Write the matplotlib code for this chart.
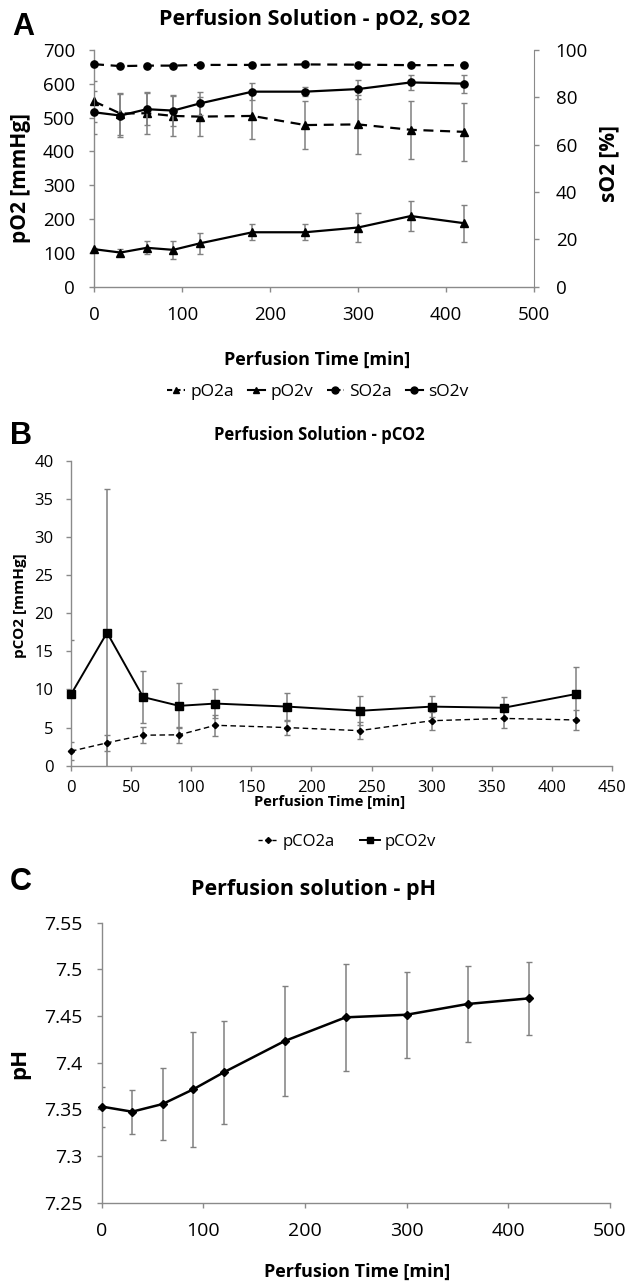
import matplotlib
matplotlib.use("Agg")
import matplotlib.pyplot as plt
from matplotlib.lines import Line2D

# ---- data -------------------------------------------------------------
time_min = [0, 30, 60, 90, 120, 180, 240, 300, 360, 420]

po2_a = [548, 512, 513, 505, 503, 505, 478, 480, 464, 458]
po2_a_err = [60, 62, 62, 60, 58, 68, 72, 88, 86, 86]
po2_v = [111, 101, 115, 109, 128, 161, 161, 175, 209, 188]
po2_v_err = [4, 11, 19, 27, 31, 23, 24, 42, 43, 55]

so2_a = [94.0, 93.2, 93.4, 93.4, 93.7, 93.7, 93.9, 93.8, 93.6, 93.6]
so2_a_err = [0.4, 0.4, 0.4, 0.4, 0.4, 0.4, 0.4, 0.4, 0.4, 0.4]
so2_v = [73.7, 72.3, 75.0, 74.4, 77.4, 82.4, 82.4, 83.5, 86.3, 85.8]
so2_v_err = [9.0, 9.0, 6.8, 6.5, 5.0, 3.5, 2.0, 4.0, 3.3, 3.8]

pco2_a = [1.9, 3.0, 4.0, 4.05, 5.3, 5.0, 4.6, 5.9, 6.2, 6.0]
pco2_a_err = [1.2, 1.05, 1.05, 1.05, 1.4, 1.0, 1.1, 1.2, 1.3, 1.3]
pco2_v = [9.35, 17.45, 9.0, 7.85, 8.15, 7.75, 7.2, 7.75, 7.6, 9.4]
pco2_v_err = [7.2, 18.8, 3.45, 2.95, 1.85, 1.85, 1.9, 1.35, 1.45, 3.5]

ph = [7.353, 7.3475, 7.3557, 7.3714, 7.3896, 7.4232, 7.4486, 7.4514, 7.4629, 7.4689]
ph_err = [0.0215, 0.0235, 0.039, 0.062, 0.0555, 0.0585, 0.057, 0.046, 0.0405, 0.0388]

ph_ticks = [7.25, 7.3, 7.35, 7.4, 7.45, 7.5, 7.55]

# ---- styling ----------------------------------------------------------
W, H = 630, 1284
BODY = "Open Sans"
AXIS_GREY = "#8a8a8a"
ERR_GREY = "#808080"
DASH = (0, (4.5, 3))

plt.rcParams["font.family"] = [BODY, "DejaVu Sans"]

fig = plt.figure(figsize=(W / 100, H / 100), dpi=100)


def rect(left, top, right, bottom):
    return [left / W, 1 - bottom / H, (right - left) / W, (bottom - top) / H]


def fy(y):
    return 1 - y / H


def style_axes(ax, size, xpad, ypad):
    for side in ("top", "right"):
        ax.spines[side].set_visible(False)
    for side in ("left", "bottom"):
        ax.spines[side].set_color(AXIS_GREY)
        ax.spines[side].set_linewidth(1.0)
    ax.tick_params(axis="both", direction="out", length=3.6, width=1.0,
                   color=AXIS_GREY, labelsize=size)
    ax.tick_params(axis="x", pad=xpad)
    ax.tick_params(axis="y", pad=ypad)


def err(ax, x, y, e):
    ax.errorbar(x, y, yerr=e, fmt="none", ecolor=ERR_GREY, elinewidth=1.1,
                capsize=2.2, capthick=1.0, zorder=2)


def fmt_g(v, _pos):
    return f"{v:g}"


def panel_letter(x, y, s):
    fig.text(x / W, fy(y), s, ha="left", va="center", fontsize=22,
             fontweight="bold", family="Liberation Sans")


# ---- panel A: pO2 / sO2 ----------------------------------------------
axA = fig.add_axes(rect(94, 50, 534, 286.7))
style_axes(axA, 13.5, 10, 10)
axA.set_xlim(0, 500)
axA.set_ylim(0, 700)
axA.set_xticks(range(0, 501, 100))
axA.set_yticks(range(0, 701, 100))

axA2 = axA.twinx()
axA2.set_ylim(0, 100)
axA2.set_yticks(range(0, 101, 20))
for side in ("top", "left", "bottom"):
    axA2.spines[side].set_visible(False)
axA2.spines["right"].set_color(AXIS_GREY)
axA2.tick_params(axis="y", direction="out", length=3.6, width=1.0,
                 color=AXIS_GREY, labelsize=13.5, pad=12)

err(axA, time_min, po2_a, po2_a_err)
err(axA, time_min, po2_v, po2_v_err)
err(axA2, time_min, so2_a, so2_a_err)
err(axA2, time_min, so2_v, so2_v_err)

axA.plot(time_min, po2_a, color="black", lw=1.6, linestyle=DASH,
         marker="^", ms=5.2, zorder=4, clip_on=False)
axA.plot(time_min, po2_v, color="black", lw=1.6,
         marker="^", ms=5.2, zorder=4, clip_on=False)
axA2.plot(time_min, so2_a, color="black", lw=1.6, linestyle=DASH,
          marker="o", ms=5.2, zorder=4, clip_on=False)
axA2.plot(time_min, so2_v, color="black", lw=1.6,
          marker="o", ms=5.2, zorder=4, clip_on=False)

fig.text(21 / W, fy(178), "pO2 [mmHg]", rotation=90, ha="center",
         va="center", fontsize=15, fontweight="bold")
fig.text(609 / W, fy(163), "sO2 [%]", rotation=90, ha="center",
         va="center", fontsize=15, fontweight="bold")
fig.text(315 / W, fy(20), "Perfusion Solution - pO2, sO2", ha="center",
         va="center", fontsize=15.5, fontweight="bold")
fig.text(317 / W, fy(360), "Perfusion Time [min]", ha="center",
         va="center", fontsize=13, fontweight="bold")
panel_letter(12, 27, "A")

legA = [
    Line2D([], [], color="black", lw=1.5, linestyle=(0, (2.5, 1.5)), marker="^", ms=5),
    Line2D([], [], color="black", lw=1.5, marker="^", ms=5),
    Line2D([], [], color="black", lw=1.5, linestyle=(0, (2.5, 1.5)), marker="o", ms=5),
    Line2D([], [], color="black", lw=1.5, marker="o", ms=5),
]
fig.legend(legA, ["pO2a", "pO2v", "SO2a", "sO2v"], loc="center",
           bbox_to_anchor=(318 / W, fy(392)), ncol=4, frameon=False,
           fontsize=12.5, handlelength=1.0, handletextpad=0.3,
           columnspacing=0.8)

# ---- panel B: pCO2 ----------------------------------------------------
axB = fig.add_axes(rect(71, 460.7, 612, 765.7))
style_axes(axB, 12, 7, 9)
axB.set_xlim(0, 450)
axB.set_ylim(0, 40)
axB.set_xticks(range(0, 451, 50))
axB.set_yticks(range(0, 41, 5))

err(axB, time_min, pco2_a, pco2_a_err)
err(axB, time_min, pco2_v, pco2_v_err)
axB.plot(time_min, pco2_a, color="black", lw=1.0, linestyle=(0, (4, 2.5)),
         marker="D", ms=3.2, zorder=4, clip_on=False)
axB.plot(time_min, pco2_v, color="black", lw=1.4,
         marker="s", ms=5.5, zorder=4, clip_on=False)

fig.text(20 / W, fy(606), "pCO2 [mmHg]", rotation=90, ha="center",
         va="center", fontsize=11, fontweight="bold")
fig.text(330 / W, fy(802), "Perfusion Time [min]", ha="center",
         va="center", fontsize=10.5, fontweight="bold")
fig.text(319 / W, fy(435), "Perfusion Solution - pCO2", ha="center",
         va="center", fontsize=12, fontweight="bold")
panel_letter(10, 436, "B")

legB = [
    Line2D([], [], color="black", lw=1.0, linestyle=(0, (3, 2)), marker="D", ms=3),
    Line2D([], [], color="black", lw=1.4, marker="s", ms=5),
]
fig.legend(legB, ["pCO2a", "pCO2v"], loc="center",
           bbox_to_anchor=(347 / W, fy(842)), ncol=2, frameon=False,
           fontsize=12, handlelength=1.2, handletextpad=0.3,
           columnspacing=1.5)

# ---- panel C: pH ------------------------------------------------------
axC = fig.add_axes(rect(101.6, 922.7, 610, 1202.7))
style_axes(axC, 14, 10, 10)
axC.set_xlim(0, 500)
axC.set_ylim(7.25, 7.55)
axC.set_xticks(range(0, 501, 100))
axC.set_yticks(ph_ticks)
axC.yaxis.set_major_formatter(fmt_g)

err(axC, time_min, ph, ph_err)
axC.plot(time_min, ph, color="black", lw=1.8, marker="D", ms=4,
         zorder=4, clip_on=False)

fig.text(20 / W, fy(1063), "pH", rotation=90, ha="center",
         va="center", fontsize=16, fontweight="bold")
fig.text(314 / W, fy(890), "Perfusion solution - pH", ha="center",
         va="center", fontsize=15.5, fontweight="bold")
fig.text(357 / W, fy(1272), "Perfusion Time [min]", ha="center",
         va="center", fontsize=13, fontweight="bold")
panel_letter(10, 882, "C")

fig.savefig("out.png", dpi=100)
